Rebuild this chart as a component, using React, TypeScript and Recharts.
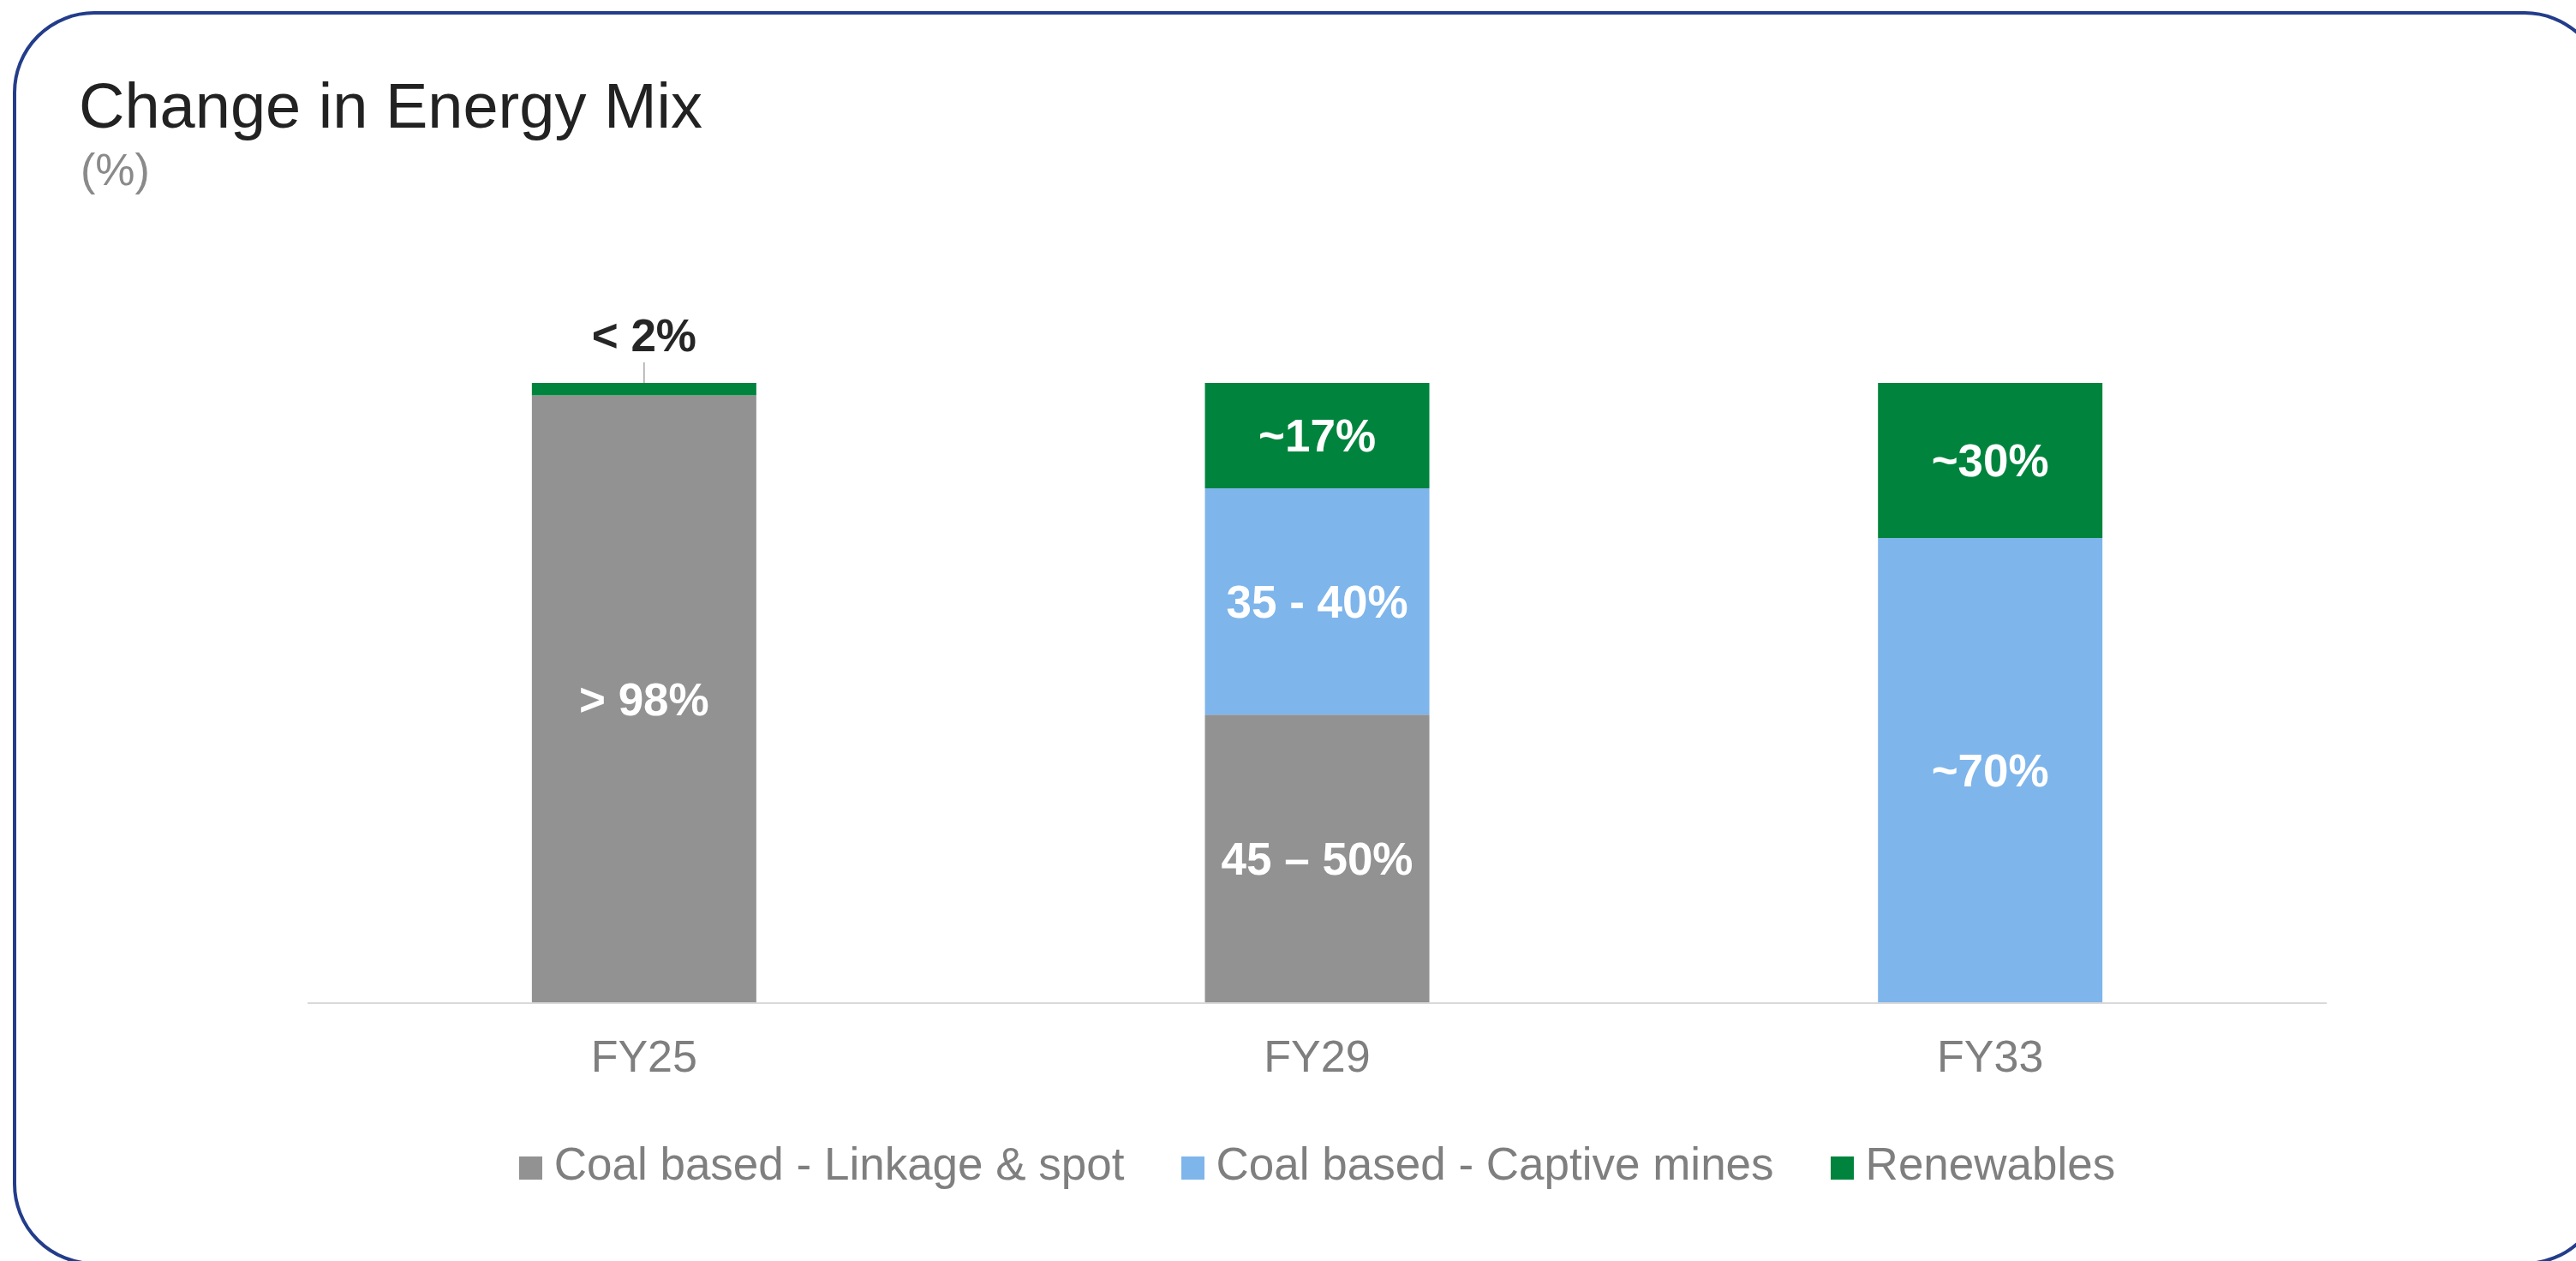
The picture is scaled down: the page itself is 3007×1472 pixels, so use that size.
import React from 'react';
import { BarChart, Bar, XAxis, YAxis, LabelList } from 'recharts';

const categories = ['FY25', 'FY29', 'FY33'];

// shares as drawn in the picture (%)
const linkageSpot = [98, 46.5, 0];
const captiveMines = [0, 36.5, 75];
const renewables = [2, 17, 25];

// labels written on the segments
const linkageLabels = ['> 98%', '45 – 50%', ''];
const captiveLabels = ['', '35 - 40%', '~70%'];
const renewableLabels = ['< 2%', '~17%', '~30%'];

const seriesNames = ['Coal based - Linkage & spot', 'Coal based - Captive mines', 'Renewables'];
const seriesColors = ['#929292', '#7eb5eb', '#00843d'];

const data = categories.map((c, i) => ({
  name: c,
  linkage: linkageSpot[i],
  captive: captiveMines[i],
  renew: renewables[i],
  linkageLabel: linkageLabels[i],
  captiveLabel: captiveLabels[i],
  renewLabel: renewableLabels[i],
}));

const FONT = '"Liberation Sans", Arial, Helvetica, sans-serif';
const LABEL_SIZE = 53;

const renderLabel = (props: any) => {
  const vb = props.viewBox || props;
  const x = Number(vb.x);
  const y = Number(vb.y);
  const w = Number(vb.width);
  const h = Number(vb.height);
  const t = props.value;
  if (!t || !h) return null;
  const cx = x + w / 2;
  // thin segment: put the label above with a small leader line
  if (h < 40) {
    return (
      <g>
        <line x1={cx} x2={cx} y1={y - 24} y2={y} stroke="#a6a6a6" strokeWidth={1.5} />
        <text x={cx} y={y - 56 + LABEL_SIZE * 0.355} textAnchor="middle" fill="#262626"
          fontFamily={FONT} fontWeight={700} fontSize={LABEL_SIZE}>{t}</text>
      </g>
    );
  }
  return (
    <text x={cx} y={y + h / 2 + LABEL_SIZE * 0.355} textAnchor="middle" fill="#ffffff"
      fontFamily={FONT} fontWeight={700} fontSize={LABEL_SIZE}>{t}</text>
  );
};

function App() {
  return (
    <div style={{ position: 'absolute', left: 0, top: 0, width: 3007, height: 1472, overflow: 'hidden', background: '#fff', fontFamily: FONT }}>
      <div style={{
        position: 'absolute', left: 15, top: 13, width: 3027, height: 1464, boxSizing: 'border-box',
        border: '4px solid #233d8b', borderRadius: 95,
      }} />

      <div style={{ position: 'absolute', left: 92, top: 87, fontSize: 74, lineHeight: 1, color: '#222222', whiteSpace: 'nowrap' }}>
        Change in Energy Mix
      </div>
      <div style={{ position: 'absolute', left: 94, top: 172, fontSize: 52, lineHeight: 1, color: '#8a8a8a' }}>
        (%)
      </div>

      <div style={{ position: 'absolute', left: 0, top: 0 }}>
        <BarChart width={3007} height={1472} data={data} barCategoryGap="33.33%"
          margin={{ top: 447, right: 291, bottom: 201, left: 359 }}>
          <XAxis dataKey="name" height={100} tickLine={false} tickSize={6} tickMargin={37}
            axisLine={{ stroke: '#d9d9d9', strokeWidth: 2 }}
            tick={{ fill: '#7f7f7f', fontSize: 52, fontFamily: FONT }} />
          <YAxis hide domain={[0, 100]} />
          <Bar dataKey="linkage" stackId="a" fill={seriesColors[0]} isAnimationActive={false}>
            <LabelList dataKey="linkageLabel" content={renderLabel} />
          </Bar>
          <Bar dataKey="captive" stackId="a" fill={seriesColors[1]} isAnimationActive={false}>
            <LabelList dataKey="captiveLabel" content={renderLabel} />
          </Bar>
          <Bar dataKey="renew" stackId="a" fill={seriesColors[2]} isAnimationActive={false}>
            <LabelList dataKey="renewLabel" content={renderLabel} />
          </Bar>
        </BarChart>
      </div>

      <div style={{
        position: 'absolute', left: 359, top: 1332, width: 2357, display: 'flex', justifyContent: 'center',
        alignItems: 'baseline', fontSize: 53, lineHeight: 1, color: '#7f7f7f', whiteSpace: 'nowrap',
      }}>
        {seriesNames.map((n, i) => (
          <div key={n} style={{ marginLeft: i ? 66 : 0, display: 'flex', alignItems: 'baseline' }}>
            <span style={{ display: 'inline-block', width: 27, height: 27, background: seriesColors[i], marginRight: 14 }} />
            <span>{n}</span>
          </div>
        ))}
      </div>
    </div>
  );
}

export default App;
